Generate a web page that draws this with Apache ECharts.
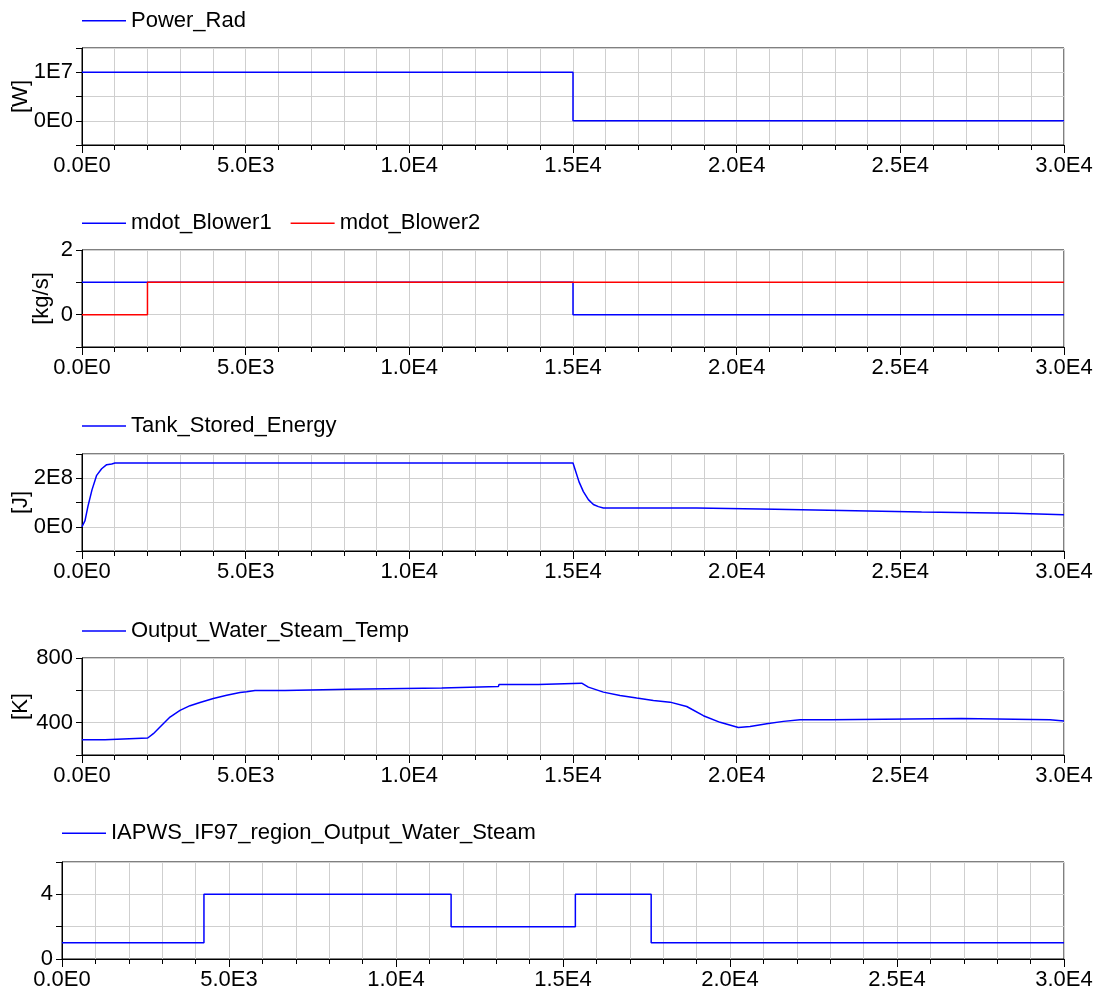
<!DOCTYPE html>
<html><head><meta charset="utf-8">
<script src="https://cdn.jsdelivr.net/npm/echarts@6/dist/echarts.min.js"></script>
<style>html,body{margin:0;padding:0;background:#fff}#c{width:1106px;height:994px}</style>
</head><body><div id="c"></div>
<script>
// ---- data ----
const xTickValues = [0, 5000, 10000, 15000, 20000, 25000, 30000];
const xTickLabels = ['0.0E0', '5.0E3', '1.0E4', '1.5E4', '2.0E4', '2.5E4', '3.0E4'];

const powerTime = [0, 15000, 30000];
const powerRad = [1e7, 0, 0];

const blower1Time = [0, 15000, 30000];
const blower1 = [1, 0, 0];
const blower2Time = [0, 2000, 30000];
const blower2 = [0, 1, 1];

const tankTime = [0, 92, 183, 305, 448, 600, 754, 907, 1008, 15000, 15185, 15317, 15470, 15623, 15776, 15928,
  18780, 18800, 21170, 21190, 23210, 23230, 25650, 25670, 28450, 28470, 30000];
const tankEnergy = [0, 0.25e8, 0.85e8, 1.52e8, 2.12e8, 2.39e8, 2.56e8, 2.59e8, 2.63e8, 2.63e8, 1.85e8, 1.45e8, 1.12e8, 0.92e8, 0.83e8, 0.77e8,
  0.77e8, 0.72e8, 0.72e8, 0.67e8, 0.67e8, 0.61e8, 0.61e8, 0.56e8, 0.56e8, 0.49e8, 0.49e8];

const tempTime = [0, 700, 720, 2007, 2180, 2383, 2689, 2994, 3300, 3605, 4012, 4420, 4827, 5031, 5285, 6200, 6220, 8130, 8150,
  10990, 11010, 12720, 12740, 13940, 13960, 15266, 15470, 15928, 16437, 16947, 17456, 17965, 18474, 18983, 19493, 20052, 20083,
  20410, 20919, 21428, 21937, 22900, 22920, 26870, 26890, 29570, 29590, 30000];
const tempValue = [295, 295, 305, 305, 332, 373, 435, 476, 505, 525, 550, 570, 587, 591, 599, 599, 607, 607, 615,
  615, 623, 623, 636, 636, 644, 644, 620, 589, 568, 552, 537, 527, 500, 443, 402, 370, 367,
  377, 394, 408, 418, 418, 426, 426, 418, 418, 410, 410];

const regionTime = [0, 4250, 11650, 15370, 17640, 30000];
const regionValue = [1, 4, 2, 4, 1, 1];

const yTick1Values = [0, 1e7];          const yTick1Labels = ['0E0', '1E7'];
const yTick2Values = [0, 2];            const yTick2Labels = ['0', '2'];
const yTick3Values = [0, 2e8];          const yTick3Labels = ['0E0', '2E8'];
const yTick4Values = [400, 800];        const yTick4Labels = ['400', '800'];
const yTick5Values = [0, 4];            const yTick5Labels = ['0', '4'];

const seriesNames = ['Power_Rad', 'mdot_Blower1', 'mdot_Blower2', 'Tank_Stored_Energy', 'Output_Water_Steam_Temp', 'IAPWS_IF97_region_Output_Water_Steam'];
const units = ['[W]', '[kg/s]', '[J]', '[K]', ''];

// ---- build ----
const zip = (a, b) => a.map((v, i) => [v, b[i]]);
const FONT = 'Liberation Sans, Arial, Helvetica, sans-serif';
const FS = 22;
const fmtFrom = (vals, texts) => (v) => {
  const i = vals.findIndex(t => Math.abs(t - v) <= 1e-9 * Math.max(1, Math.abs(t)));
  return i >= 0 ? texts[i] : '';
};

const panels = [
  { top: 48, left: 82, legendY: 20.7, min: -5e6, max: 1.5e7, interval: 5e6, ticks: [yTick1Values, yTick1Labels], gap: 50 },
  { top: 250, left: 82, legendY: 223.3, min: -1, max: 2, interval: 1, ticks: [yTick2Values, yTick2Labels], gap: 29 },
  { top: 454, left: 82, legendY: 426, min: -1e8, max: 3e8, interval: 1e8, ticks: [yTick3Values, yTick3Labels], gap: 50 },
  { top: 658, left: 82, legendY: 631, min: 200, max: 800, interval: 200, ticks: [yTick4Values, yTick4Labels], gap: 50 },
  { top: 862, left: 62, legendY: 833.3, min: 0, max: 6, interval: 2, ticks: [yTick5Values, yTick5Labels], gap: 30 }
];

const grid = [], xAxis = [], yAxis = [], legend = [];
panels.forEach((p, i) => {
  grid.push({ left: p.left, right: 42, top: p.top, height: 97, containLabel: false, outerBoundsMode: 'none',
    show: true, borderColor: '#000', borderWidth: 1, backgroundColor: 'transparent' });
  xAxis.push({
    type: 'value', gridIndex: i, min: 0, max: 30000, interval: 5000,
    axisLine: { show: true, onZero: false, lineStyle: { color: '#000', width: 1 } },
    axisTick: { show: true, length: 8, lineStyle: { color: '#000' } },
    minorTick: { show: true, splitNumber: 5, length: 5, lineStyle: { color: '#000' } },
    splitLine: { show: true, lineStyle: { color: '#cfcfcf', width: 1 } },
    minorSplitLine: { show: true, lineStyle: { color: '#cfcfcf', width: 1 } },
    axisLabel: { margin: 10, fontSize: FS, fontFamily: FONT, color: '#000', showMinLabel: true, showMaxLabel: true,
      formatter: fmtFrom(xTickValues, xTickLabels) }
  });
  yAxis.push({
    type: 'value', gridIndex: i, min: p.min, max: p.max, interval: p.interval,
    name: units[i], nameLocation: 'middle', nameRotate: 90, nameGap: p.gap, nameMoveOverlap: false,
    nameTextStyle: { fontSize: FS, fontFamily: FONT, color: '#000' },
    axisLine: { show: true, onZero: false, lineStyle: { color: '#000', width: 1 } },
    axisTick: { show: true, length: 6, lineStyle: { color: '#000' } },
    splitLine: { show: true, lineStyle: { color: '#cfcfcf', width: 1 } },
    axisLabel: { margin: 9, fontSize: FS, fontFamily: FONT, color: '#000', showMinLabel: true, showMaxLabel: true,
      formatter: fmtFrom(p.ticks[0], p.ticks[1]) }
  });
});

const legendData = [[seriesNames[0]], [seriesNames[1], seriesNames[2]], [seriesNames[3]], [seriesNames[4]], [seriesNames[5]]];
panels.forEach((p, i) => {
  legend.push({
    data: legendData[i], left: p.left, top: p.legendY - 11, padding: 0,
    icon: 'rect', itemWidth: 44, itemHeight: 1.5, itemGap: 19,
    textStyle: { fontSize: FS, fontFamily: FONT, color: '#000' }
  });
});

const mk = (name, idx, data, color, step) => ({
  name, type: 'line', xAxisIndex: idx, yAxisIndex: idx, data, step: step ? 'end' : false,
  showSymbol: false, symbol: 'none', animation: false, color,
  lineStyle: { color, width: 1.5 }
});

const series = [
  mk(seriesNames[0], 0, zip(powerTime, powerRad), '#0000ff', true),
  mk(seriesNames[1], 1, zip(blower1Time, blower1), '#0000ff', true),
  mk(seriesNames[2], 1, zip(blower2Time, blower2), '#ff0000', true),
  mk(seriesNames[3], 2, zip(tankTime, tankEnergy), '#0000ff', false),
  mk(seriesNames[4], 3, zip(tempTime, tempValue), '#0000ff', false),
  mk(seriesNames[5], 4, zip(regionTime, regionValue), '#0000ff', true)
];

const chart = echarts.init(document.getElementById('c'), null, { renderer: 'canvas' });
chart.setOption({ animation: false, backgroundColor: '#fff', grid, xAxis, yAxis, legend, series });
</script>
</body></html>
